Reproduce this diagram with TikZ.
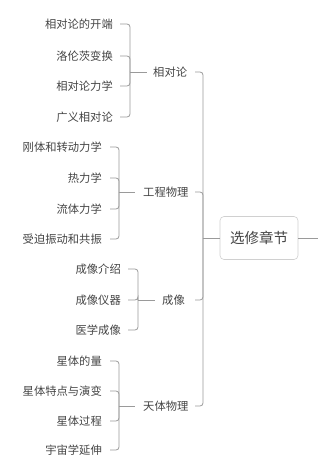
\documentclass[tikz,border=0pt]{standalone}
\usepackage{fontspec}
\setmainfont{Noto Sans CJK SC}
\definecolor{txt}{HTML}{444444}
\definecolor{ln}{HTML}{9A9A9A}
\definecolor{bd}{HTML}{D0D0D0}
\begin{document}
\begin{tikzpicture}[x=1pt,y=-1pt,
  leaf/.style={anchor=east,inner sep=0pt,text=txt,font=\fontsize{11.3}{13}\selectfont},
  branch/.style={anchor=west,inner sep=0pt,text=txt,font=\fontsize{11.3}{13}\selectfont},
  conn/.style={draw=ln,line width=0.8pt,rounded corners=3pt},
  rootbox/.style={draw=bd,fill=white,rounded corners=4pt,minimum width=78pt,minimum height=43pt,inner sep=0pt,text=txt,font=\fontsize{14.5}{17}\selectfont,line width=0.6pt}]
\useasboundingbox (0,0) rectangle (318,473);
% root
\node[rootbox] (root) at (259,238) {选修章节};
\coordinate (tr) at (203,238);
\coordinate (rr) at (318,238);
\coordinate (xs) at (195,0);
% branches
\node[branch] (b1) at (153,72) {相对论};
\node[branch] (b2) at (143,192) {工程物理};
\node[branch] (b3) at (162,300) {成像};
\node[branch] (b4) at (143,406) {天体物理};
% junctions
\coordinate (j1) at (130,72);
\coordinate (j2) at (119,192);
\coordinate (j3) at (138,300);
\coordinate (j4) at (119,406);
% leaves group 1
\node[leaf] (a1) at (113,24) {相对论的开端};
\node[leaf] (a2) at (113,56) {洛伦茨变换};
\node[leaf] (a3) at (113,86) {相对论力学};
\node[leaf] (a4) at (113,117) {广义相对论};
% group 2
\node[leaf] (c1) at (102,147) {刚体和转动力学};
\node[leaf] (c2) at (102,178) {热力学};
\node[leaf] (c3) at (102,209) {流体力学};
\node[leaf] (c4) at (102,239) {受迫振动和共振};
% group 3
\node[leaf] (d1) at (121,269) {成像介绍};
\node[leaf] (d2) at (121,300) {成像仪器};
\node[leaf] (d3) at (121,330) {医学成像};
% group 4
\node[leaf] (e1) at (102,361) {星体的量};
\node[leaf] (e2) at (102,391) {星体特点与演变};
\node[leaf] (e3) at (102,421) {星体过程};
\node[leaf] (e4) at (102,450) {宇宙学延伸};
% connectors leaves
\foreach \n in {a1,a2,a3,a4} \draw[conn] ([xshift=7pt]\n.east) -| (j1);
\foreach \n in {c1,c2,c3,c4} \draw[conn] ([xshift=8pt]\n.east) -| (j2);
\foreach \n in {d1,d2,d3} \draw[conn] ([xshift=7pt]\n.east) -| (j3);
\foreach \n in {e1,e2,e3,e4} \draw[conn] ([xshift=8pt]\n.east) -| (j4);
\draw[conn] (j1) -- ([xshift=-6pt]b1.west);
\draw[conn] (j2) -- ([xshift=-8pt]b2.west);
\draw[conn] (j3) -- ([xshift=-7pt]b3.west);
\draw[conn] (j4) -- ([xshift=-8pt]b4.west);
% branches to trunk
\foreach \n in {b1,b2,b3,b4} \draw[conn] (\n -| xs) -| (tr);
\draw[conn] (root.west) -- (tr);
\draw[conn] (root.east) -- (rr);
\end{tikzpicture}
\end{document}
